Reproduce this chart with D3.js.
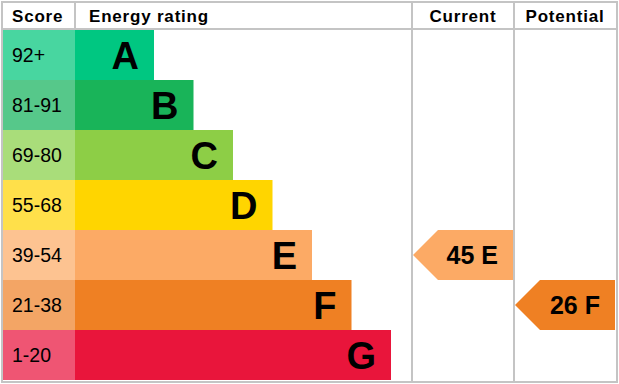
<!DOCTYPE html>
<html>
<head>
<meta charset="utf-8">
<script src="https://cdn.jsdelivr.net/npm/d3@7"></script>
<style>
  body { margin: 0; background: #fff; }
  text { font-family: "Liberation Sans", Arial, sans-serif; }
</style>
</head>
<body>
<div id="chart"></div>
<script>
// rating bands, best to worst
const bands = ["A", "B", "C", "D", "E", "F", "G"];
const scores = ["92+", "81-91", "69-80", "55-68", "39-54", "21-38", "1-20"];
const barColors = ["#00c781", "#19b459", "#8dce46", "#ffd500", "#fcaa65", "#ef8023", "#e9153b"];
const scoreColors = ["#48d6a0", "#56c88a", "#a9dd7a", "#ffe04a", "#fdc391", "#f3a565", "#ef5573"];
const barLength = [2, 3, 4, 5, 6, 7, 8]; // relative bar length per band
const headers = ["Score", "Energy rating", "Current", "Potential"];
const current = {value: 45, band: "E"};
const potential = {value: 26, band: "F"};

const width = 619, height = 384;
const grey = "#c4c4c4";

const svg = d3.select("#chart").append("svg")
    .attr("width", width)
    .attr("height", height);

const y = d3.scaleBand()
    .domain(bands)
    .range([30, 380]);

const x = d3.scaleLinear()
    .domain([0, 8])
    .range([75, 391]);

// column edges
const colCurrent = [412, 514];
const colPotential = [514, 616];

// score column
svg.append("g").selectAll("rect")
    .data(bands)
    .join("rect")
    .attr("x", 3)
    .attr("y", d => y(d))
    .attr("width", 72)
    .attr("height", y.bandwidth())
    .attr("fill", (d, i) => scoreColors[i]);

svg.append("g").selectAll("text")
    .data(bands)
    .join("text")
    .attr("x", 12)
    .attr("y", d => y(d) + y.bandwidth() / 2)
    .attr("dy", "0.36em")
    .style("font-size", "19.5px")
    .text((d, i) => scores[i]);

// bars
svg.append("g").selectAll("rect")
    .data(bands)
    .join("rect")
    .attr("x", x(0))
    .attr("y", d => y(d))
    .attr("width", (d, i) => x(barLength[i]) - x(0))
    .attr("height", y.bandwidth())
    .attr("fill", (d, i) => barColors[i]);

svg.append("g").selectAll("text")
    .data(bands)
    .join("text")
    .attr("x", (d, i) => x(barLength[i]) - 15)
    .attr("y", d => y(d) + y.bandwidth() / 2)
    .attr("dy", "0.36em")
    .attr("text-anchor", "end")
    .style("font-size", "38px")
    .style("font-weight", "bold")
    .text(d => d);

// arrows
const tip = 25;
const arrow = (col, r) => {
    const b = y(r.band), h = y.bandwidth();
    const x0 = col[0] + 1, x1 = col[1] - 1;
    const g = svg.append("g");
    g.append("path")
        .attr("d", d3.line()([[x0, b + h / 2], [x0 + tip, b], [x1, b], [x1, b + h], [x0 + tip, b + h]]) + "Z")
        .attr("fill", barColors[bands.indexOf(r.band)]);
    g.append("text")
        .attr("x", x1 - 15)
        .attr("y", b + h / 2)
        .attr("dy", "0.36em")
        .attr("text-anchor", "end")
        .style("font-size", "25px")
        .style("font-weight", "bold")
        .text(r.value + " " + r.band);
};
arrow(colCurrent, current);
arrow(colPotential, potential);

// grid lines
const lines = svg.append("g")
    .attr("stroke", grey)
    .attr("stroke-width", 2)
    .attr("fill", "none");
lines.append("rect").attr("x", 2).attr("y", 2).attr("width", 615).attr("height", 380);
lines.append("line").attr("x1", 2).attr("x2", 617).attr("y1", 29).attr("y2", 29);
lines.append("line").attr("x1", 75).attr("x2", 75).attr("y1", 2).attr("y2", 29);
[412, 514].forEach(v => {
    lines.append("line").attr("x1", v).attr("x2", v).attr("y1", 2).attr("y2", 382);
});

// headers
const headX = [12, 89, 463, 565];
const anchors = ["start", "start", "middle", "middle"];
svg.append("g").selectAll("text")
    .data(headers)
    .join("text")
    .attr("x", (d, i) => headX[i])
    .attr("y", 16)
    .attr("dy", "0.36em")
    .attr("text-anchor", (d, i) => anchors[i])
    .style("font-size", "17px")
    .style("font-weight", "bold")
    .style("letter-spacing", "0.8px")
    .text(d => d);
</script>
</body>
</html>
